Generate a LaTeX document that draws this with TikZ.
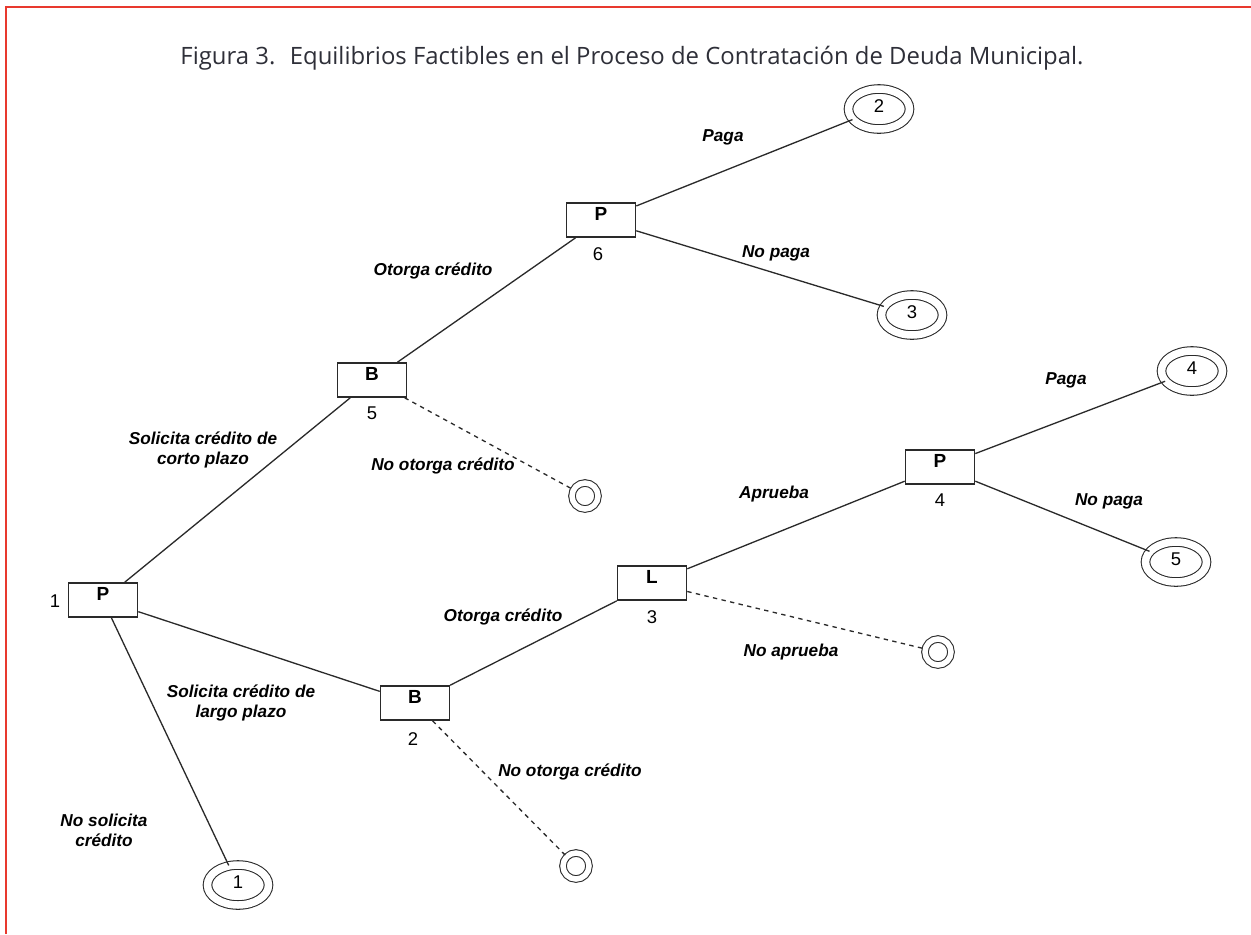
\documentclass[tikz,border=0pt]{standalone}
\usepackage{fontspec}
\setsansfont{Liberation Sans}
\newfontfamily\titlefont{Open Sans}
\usetikzlibrary{shapes.geometric}
\definecolor{framered}{HTML}{E8392E}
\definecolor{titlegray}{HTML}{2E2F38}
\definecolor{linegray}{HTML}{2A2A2A}

\begin{document}
\begin{tikzpicture}[x=0.02cm,y=-0.02cm,
    decision/.style={draw=linegray, line width=0.9pt, rectangle, minimum width=1.38cm, minimum height=0.68cm,
        text height=0.27cm, text depth=0.25cm, inner sep=0pt, font=\sffamily\bfseries\fontsize{10.8}{12}\selectfont},
    payoff/.style={draw=linegray, ellipse, double, double distance=0.15cm, line width=0.6pt,
        minimum width=1.22cm, minimum height=0.8cm, inner sep=0pt, text height=0.27cm, text depth=0.12cm,
        font=\sffamily\fontsize{10.5}{12}\selectfont},
    endpt/.style={draw=linegray, circle, double, double distance=0.11cm, line width=0.6pt, minimum size=0.52cm, inner sep=0pt},
    move/.style={font=\sffamily\bfseries\itshape\fontsize{9.8}{11.4}\selectfont, align=center, inner sep=0pt},
    num/.style={font=\sffamily\fontsize{10.5}{12}\selectfont, inner sep=0pt},
    branch/.style={draw=linegray, line width=0.75pt},
    nobranch/.style={branch, dash pattern=on 2.5pt off 2.5pt}]
  \useasboundingbox (0,0) rectangle (1251,934);
  \draw[framered, line width=0.05cm] (6,934) -- (6,7) -- (1251,7);
  \node[font=\titlefont\fontsize{13.6}{16}\selectfont, text=titlegray] (title) at (632,58)
    {Figura 3.~ Equilibrios Factibles en el Proceso de Contratación de Deuda Municipal.};

  % decision nodes
  \node[decision] (p1) at (103,600) {P};
  \node[decision] (b5) at (372,380) {B};
  \node[decision] (p6) at (601,220) {P};
  \node[decision] (b2) at (415,703) {B};
  \node[decision] (l3) at (652,583) {L};
  \node[decision] (p4) at (940,467) {P};
  \node[num] (n1) at (55,601) {1};
  \node[num] (n5) at (372,413) {5};
  \node[num] (n6) at (598,254) {6};
  \node[num] (n2) at (413,739) {2};
  \node[num] (n3) at (652,617) {3};
  \node[num] (n4) at (940,500) {4};

  % outcomes
  \node[payoff] (t2) at (879,109) {2};
  \node[payoff] (t3) at (912,315) {3};
  \node[payoff] (t4) at (1192,371) {4};
  \node[payoff] (t5) at (1176,562) {5};
  \node[payoff] (t1) at (238,885) {1};
  \node[endpt] (e1) at (585,496) {};
  \node[endpt] (e2) at (938,652) {};
  \node[endpt] (e3) at (576,866) {};

  % branches
  \draw[branch] (p1) -- (b5);
  \draw[branch] (p1) -- (b2);
  \draw[branch] (p1) -- (t1);
  \draw[branch] (b5) -- (p6);
  \draw[nobranch] (b5) -- (e1);
  \draw[branch] (p6) -- (t2);
  \draw[branch] (p6) -- (t3);
  \draw[branch] (b2) -- (l3);
  \draw[nobranch] (b2) -- (e3);
  \draw[branch] (l3) -- (p4);
  \draw[nobranch] (l3) -- (e2);
  \draw[branch] (p4) -- (t4);
  \draw[branch] (p4) -- (t5);

  % moves
  \node[move] (m1) at (723,137) {Paga};
  \node[move] (m2) at (776,253) {No paga};
  \node[move] (m3) at (433,271) {Otorga crédito};
  \node[move] (m4) at (203,450) {Solicita crédito de\\corto plazo};
  \node[move] (m5) at (443,466) {No otorga crédito};
  \node[move] (m6) at (1066,380) {Paga};
  \node[move] (m7) at (774,494) {Aprueba};
  \node[move] (m8) at (1109,501) {No paga};
  \node[move] (m9) at (503,617) {Otorga crédito};
  \node[move] (m10) at (791,652) {No aprueba};
  \node[move] (m11) at (241,703) {Solicita crédito de\\largo plazo};
  \node[move] (m12) at (570,772) {No otorga crédito};
  \node[move] (m13) at (104,830) {No solicita\\crédito};
\end{tikzpicture}
\end{document}
